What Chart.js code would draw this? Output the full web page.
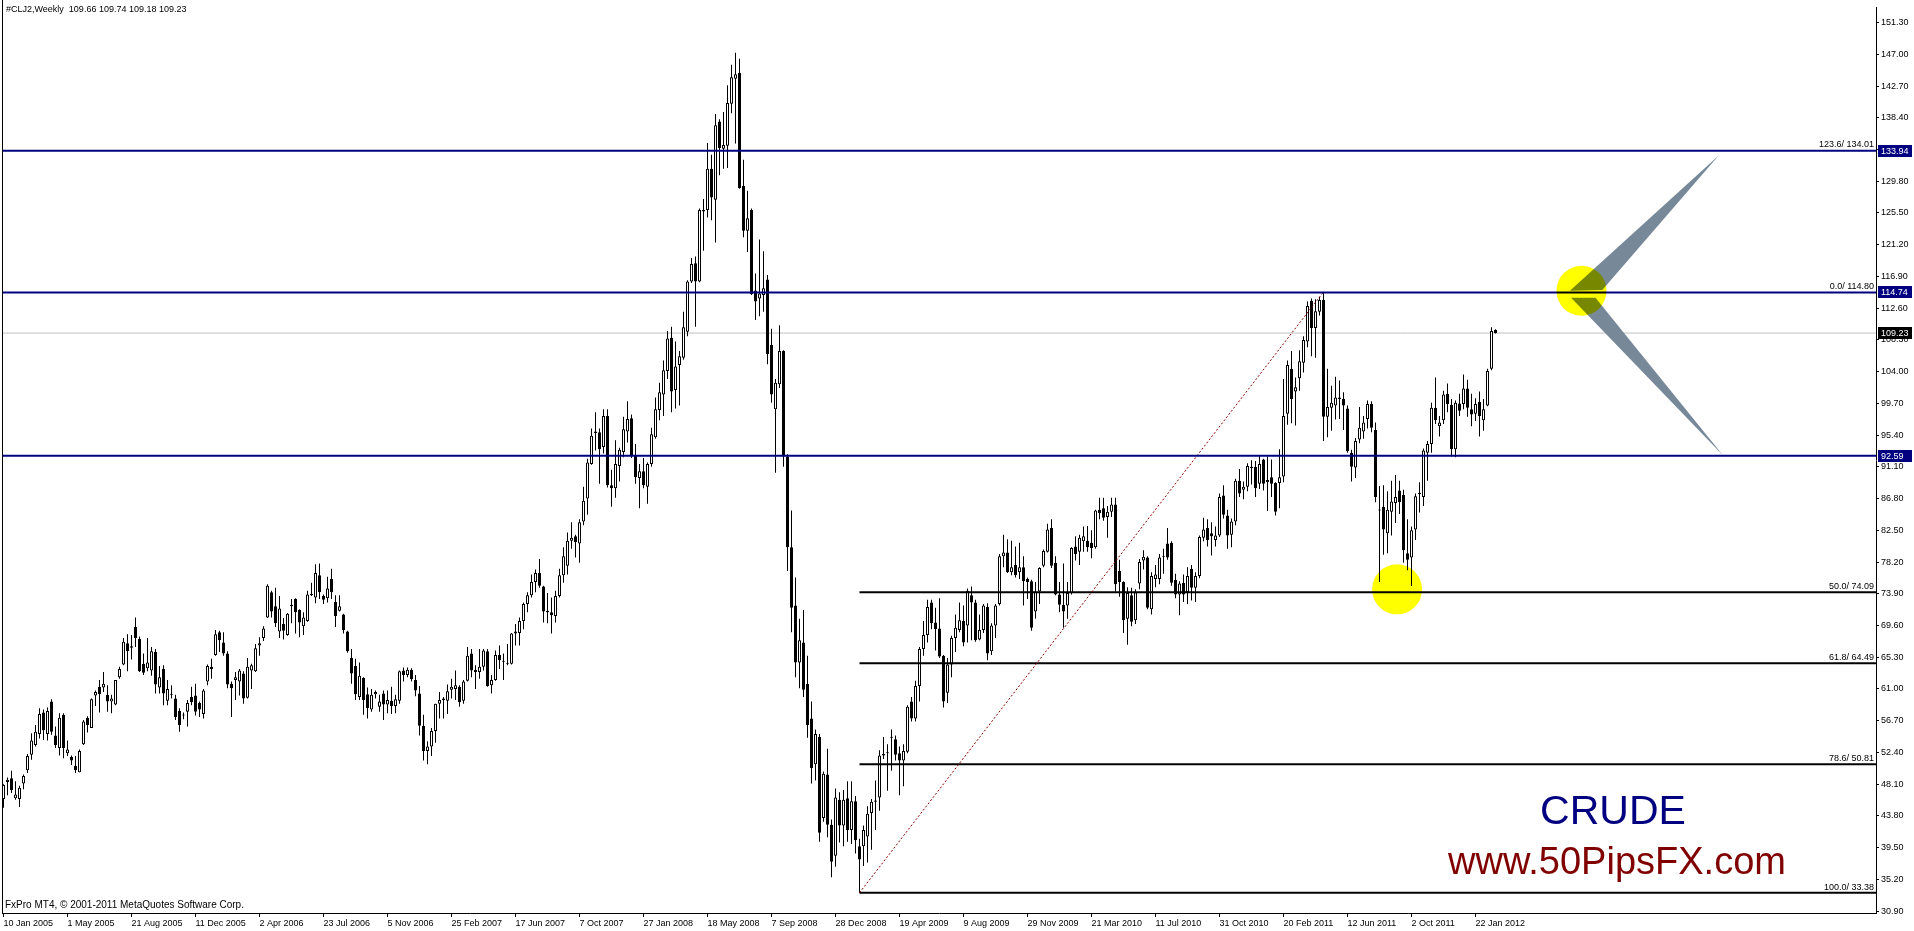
<!DOCTYPE html>
<html>
<head>
<meta charset="utf-8">
<title>#CLJ2,Weekly</title>
<script src="https://cdn.jsdelivr.net/npm/chart.js@4.4.1/dist/chart.umd.min.js"></script>
<style>
  html, body { margin: 0; padding: 0; background: #fff; overflow: hidden; }
  #chart { display: block; }
</style>
</head>
<body>
<canvas id="chart" width="1914" height="931"></canvas>
<script>
// weekly bars, one per week from 10 Jan 2005 to 26 Feb 2012 (374 bars)
const weekOpen = [
  46.1, 48.4, 48.9, 46.2, 46.1, 48.2, 50.0, 52.1, 53.4, 54.9,
  57.8, 54.9, 59.3, 54.7, 53.0, 57.5, 52.3, 51.8, 50.6, 49.7,
  53.5, 57.1, 55.7, 60.1, 61.3, 61.2, 60.2, 59.3, 58.9, 62.6,
  64.3, 67.2, 66.6, 69.4, 67.8, 64.4, 63.8, 63.5, 66.0, 61.2,
  63.7, 59.4, 60.3, 59.7, 58.0, 57.4, 57.9, 59.9, 60.1, 59.1,
  57.6, 62.0, 64.0, 65.6, 68.7, 67.3, 65.8, 61.7, 62.2, 62.0,
  63.1, 59.8, 63.5, 63.4, 66.9, 67.9, 70.7, 74.1, 72.2, 68.8,
  69.8, 68.3, 72.4, 73.2, 71.7, 69.5, 70.2, 73.9, 73.4, 76.4,
  73.6, 73.3, 75.9, 72.8, 71.6, 71.1, 68.8, 65.2, 64.1, 59.9,
  62.5, 60.3, 58.2, 60.3, 58.6, 60.4, 58.9, 59.4, 58.7, 59.4,
  63.5, 62.9, 63.6, 62.2, 60.4, 56.0, 52.6, 53.2, 55.3, 59.0,
  59.7, 59.4, 60.9, 61.0, 61.3, 59.4, 62.1, 65.8, 63.6, 63.3,
  64.0, 66.1, 61.5, 62.2, 65.6, 64.8, 64.5, 64.4, 68.5, 68.6,
  70.2, 72.5, 73.7, 75.5, 76.7, 74.9, 71.6, 71.4, 70.9, 73.6,
  76.4, 77.7, 81.1, 81.7, 80.7, 83.7, 86.8, 91.5, 95.9, 95.8,
  93.8, 98.0, 88.6, 88.2, 91.2, 93.1, 95.9, 97.7, 92.6, 89.6,
  90.5, 88.4, 91.5, 95.1, 98.8, 100.9, 104.1, 108.6, 101.5, 104.9,
  105.9, 109.4, 116.2, 118.7, 116.2, 125.7, 125.9, 131.5, 127.3, 137.9,
  134.2, 134.6, 140.3, 143.7, 144.5, 129.2, 123.1, 125.9, 115.0, 113.9,
  114.4, 116.5, 107.6, 98.9, 102.3, 106.8, 92.5, 80.2, 72.3, 64.6,
  67.3, 61.7, 57.0, 50.8, 54.5, 43.5, 49.4, 42.6, 38.4, 46.0,
  42.5, 46.2, 41.9, 45.8, 39.7, 39.7, 41.0, 44.2, 45.7, 46.3,
  52.0, 52.3, 54.4, 54.2, 52.3, 51.3, 52.5, 59.3, 57.0, 61.4,
  66.4, 68.3, 72.7, 70.0, 69.2, 65.5, 60.5, 64.3, 67.9, 69.0,
  70.2, 69.6, 73.7, 72.7, 67.7, 69.0, 72.1, 66.1, 69.6, 72.5,
  79.0, 79.5, 76.8, 77.8, 76.8, 77.5, 75.9, 75.6, 71.5, 74.2,
  77.7, 79.6, 82.8, 78.1, 73.8, 72.4, 72.3, 74.0, 80.3, 79.6,
  81.0, 81.1, 80.8, 80.2, 85.3, 85.5, 84.3, 85.0, 86.0, 77.0,
  75.5, 70.5, 73.7, 70.3, 75.3, 78.4, 78.8, 71.8, 75.9, 75.9,
  78.9, 80.7, 80.8, 75.8, 73.8, 75.4, 74.1, 77.3, 74.7, 76.3,
  81.5, 82.8, 82.1, 81.2, 81.8, 87.2, 84.5, 81.9, 83.7, 89.2,
  88.0, 88.4, 91.1, 91.1, 88.8, 92.1, 89.0, 89.7, 88.9, 88.9,
  89.8, 98.3, 104.4, 101.3, 103.1, 105.2, 108.1, 113.6, 109.9, 112.1,
  113.7, 97.9, 99.1, 99.4, 100.5, 100.3, 99.0, 93.0, 91.0, 94.8,
  95.9, 97.6, 99.6, 96.1, 85.3, 85.7, 82.1, 85.0, 86.2, 87.9,
  87.3, 79.4, 78.8, 82.6, 87.4, 87.0, 93.0, 94.2, 99.1, 96.6,
  97.4, 101.0, 99.5, 93.5, 99.7, 99.6, 101.7, 98.9, 98.3, 99.9,
  97.4, 99.4, 104.4, 109.66
];
const weekHigh = [
  48.1, 49.0, 49.9, 48.5, 47.9, 49.4, 52.2, 55.0, 56.1, 58.4,
  58.2, 58.5, 59.6, 55.9, 57.7, 57.7, 54.0, 52.0, 51.9, 52.8,
  56.8, 57.3, 59.7, 60.8, 62.2, 63.3, 61.5, 60.2, 62.2, 64.0,
  67.9, 68.4, 68.3, 70.7, 68.1, 65.8, 67.9, 66.7, 66.4, 64.1,
  64.2, 62.2, 61.5, 60.2, 58.4, 57.8, 59.5, 61.3, 61.7, 59.3,
  61.0, 64.3, 65.1, 69.0, 68.9, 68.7, 66.1, 62.0, 63.3, 63.7,
  63.4, 65.2, 64.4, 67.1, 68.0, 69.5, 75.2, 74.3, 74.7, 73.6,
  70.6, 71.3, 73.2, 73.3, 71.8, 71.4, 74.3, 75.4, 77.9, 78.0,
  73.8, 76.2, 77.3, 73.7, 73.7, 71.2, 68.9, 66.4, 65.1, 64.6,
  62.6, 61.2, 61.0, 60.8, 60.2, 60.8, 60.8, 61.3, 60.2, 63.5,
  63.9, 63.9, 63.8, 62.9, 61.4, 57.5, 53.9, 55.7, 59.0, 60.6,
  59.9, 61.6, 62.4, 63.5, 61.5, 62.2, 66.7, 66.4, 64.2, 66.4,
  66.4, 66.4, 62.9, 66.2, 66.9, 65.8, 67.1, 68.6, 69.8, 70.7,
  72.7, 74.1, 76.5, 77.2, 78.6, 75.0, 74.0, 73.4, 74.3, 77.3,
  80.2, 82.2, 83.6, 81.9, 84.0, 88.4, 92.2, 96.3, 98.5, 96.3,
  98.9, 98.9, 90.7, 94.7, 93.7, 97.9, 100.0, 98.2, 94.2, 91.5,
  92.3, 91.7, 96.4, 100.5, 102.5, 105.5, 109.5, 110.1, 108.1, 106.8,
  112.1, 116.4, 119.4, 119.6, 126.1, 127.4, 135.0, 133.4, 138.9, 138.2,
  139.2, 142.8, 145.6, 147.2, 146.4, 132.7, 128.5, 126.1, 117.3, 121.9,
  120.3, 117.1, 109.8, 103.0, 110.3, 106.9, 92.8, 85.2, 76.1, 70.5,
  71.7, 65.5, 59.3, 55.5, 54.9, 49.8, 52.9, 43.3, 47.5, 47.0,
  47.3, 48.5, 48.5, 46.5, 40.7, 42.5, 45.1, 46.1, 48.6, 52.7,
  54.5, 53.5, 55.5, 54.7, 53.2, 53.5, 58.8, 59.9, 62.1, 66.7,
  70.2, 73.1, 73.1, 72.0, 73.3, 65.6, 65.2, 68.2, 71.1, 72.7,
  72.3, 74.6, 74.9, 73.1, 71.1, 72.5, 72.6, 69.9, 72.5, 79.3,
  81.9, 81.3, 81.1, 80.3, 80.8, 79.0, 76.1, 75.8, 75.5, 77.5,
  79.9, 83.4, 84.0, 79.0, 75.5, 78.0, 75.5, 80.2, 81.7, 81.9,
  83.0, 83.1, 82.5, 85.3, 86.9, 86.9, 85.8, 86.9, 86.9, 78.5,
  75.6, 74.8, 74.7, 74.5, 78.6, 79.8, 79.0, 76.8, 77.8, 79.3,
  80.0, 82.8, 81.0, 76.6, 75.6, 76.5, 77.5, 77.8, 76.8, 81.8,
  84.2, 84.0, 83.6, 83.0, 87.5, 88.6, 85.3, 84.1, 89.5, 90.8,
  89.1, 91.6, 92.0, 91.9, 92.6, 92.2, 92.5, 92.1, 89.0, 93.5,
  103.0, 105.5, 106.8, 103.2, 106.9, 108.8, 113.5, 113.9, 113.8, 114.1,
  114.8, 104.4, 102.1, 103.3, 102.8, 101.2, 99.4, 93.4, 95.0, 99.2,
  98.0, 100.1, 100.0, 97.1, 88.5, 88.6, 87.8, 89.2, 90.0, 89.2,
  88.0, 84.0, 83.0, 87.5, 89.0, 93.6, 94.6, 99.8, 103.2, 98.0,
  101.4, 102.4, 100.3, 100.1, 101.0, 103.6, 102.9, 101.0, 100.4, 101.3,
  100.3, 104.4, 110.0, 109.74
];
const weekLow = [
  44.9, 46.6, 46.9, 46.0, 45.0, 47.4, 49.6, 51.4, 53.2, 54.3,
  54.1, 54.0, 54.8, 53.0, 52.0, 51.6, 51.9, 50.7, 49.6, 49.7,
  53.4, 55.1, 55.7, 58.7, 57.8, 60.6, 57.9, 57.7, 58.8, 62.4,
  64.2, 63.4, 65.0, 66.7, 63.3, 62.9, 63.4, 62.8, 60.4, 60.4,
  58.8, 58.8, 59.7, 56.8, 55.2, 56.9, 55.9, 58.8, 57.4, 57.2,
  57.0, 61.5, 62.4, 65.5, 66.0, 65.5, 61.1, 57.2, 59.5, 60.1,
  59.0, 59.7, 61.0, 63.3, 65.5, 67.5, 70.6, 70.7, 69.4, 67.9,
  67.7, 68.2, 69.9, 68.5, 68.0, 68.3, 70.1, 73.6, 72.6, 73.2,
  72.5, 72.7, 73.2, 69.4, 71.5, 68.5, 65.9, 61.7, 59.5, 59.5,
  57.5, 57.0, 57.9, 59.7, 57.9, 56.8, 57.7, 57.6, 57.7, 59.0,
  62.0, 62.6, 62.0, 60.0, 54.7, 51.3, 50.8, 51.9, 53.7, 57.0,
  57.0, 57.6, 59.7, 59.5, 58.6, 59.0, 62.0, 62.6, 61.0, 62.4,
  63.5, 61.3, 60.4, 62.1, 63.7, 62.2, 64.2, 64.3, 66.9, 66.9,
  69.1, 71.4, 73.4, 74.1, 74.7, 70.0, 69.9, 68.5, 70.0, 73.4,
  75.4, 76.5, 80.0, 78.8, 78.1, 83.2, 84.6, 91.4, 93.3, 88.8,
  92.9, 88.3, 85.7, 86.9, 89.1, 92.4, 94.4, 92.3, 88.8, 85.5,
  88.2, 86.1, 91.1, 94.9, 97.4, 98.0, 103.0, 98.5, 99.0, 99.4,
  105.6, 108.8, 116.0, 110.1, 116.1, 120.4, 124.9, 124.5, 121.5, 130.6,
  131.5, 131.6, 139.0, 134.9, 128.8, 122.2, 120.2, 114.4, 111.0, 111.5,
  112.1, 105.0, 99.8, 90.3, 101.8, 91.1, 77.0, 68.7, 62.6, 61.1,
  59.9, 54.4, 48.2, 48.6, 40.3, 43.0, 40.9, 35.5, 36.9, 40.2,
  39.7, 40.3, 40.0, 38.7, 33.38, 37.0, 37.5, 39.2, 41.9, 44.5,
  51.5, 47.2, 49.9, 51.3, 46.6, 47.8, 52.3, 56.6, 56.6, 59.3,
  65.5, 67.3, 69.1, 66.2, 65.2, 58.5, 59.1, 62.6, 66.0, 68.7,
  66.8, 67.3, 67.6, 67.4, 67.6, 68.6, 64.9, 65.6, 67.9, 72.3,
  77.5, 76.7, 76.4, 76.1, 75.9, 72.3, 73.2, 68.9, 70.5, 72.5,
  77.5, 79.5, 77.4, 73.7, 71.4, 69.3, 70.5, 73.8, 78.4, 77.8,
  79.6, 79.6, 78.7, 80.0, 84.0, 83.8, 81.5, 84.3, 74.2, 73.5,
  68.6, 67.0, 69.5, 69.8, 74.5, 77.2, 71.8, 71.1, 74.8, 75.2,
  76.6, 78.5, 75.0, 73.3, 71.0, 72.8, 72.5, 73.0, 72.8, 76.0,
  81.0, 80.3, 79.1, 80.3, 81.6, 84.1, 80.0, 80.2, 83.2, 87.0,
  86.7, 87.8, 88.7, 87.0, 88.1, 87.9, 85.1, 87.0, 84.5, 85.5,
  89.0, 96.8, 97.0, 96.7, 101.4, 103.9, 107.3, 106.1, 105.9, 111.6,
  94.6, 95.1, 96.0, 97.5, 97.6, 96.1, 93.0, 89.1, 89.6, 94.3,
  94.9, 96.3, 95.8, 86.3, 75.5, 79.2, 79.4, 81.8, 83.5, 84.7,
  78.1, 77.1, 74.95, 81.2, 84.9, 85.8, 89.2, 93.0, 96.9, 95.2,
  96.9, 98.5, 92.5, 92.4, 98.0, 98.9, 97.9, 96.6, 97.3, 95.2,
  96.0, 99.3, 104.2, 109.18
];
const weekClose = [
  48.0, 48.7, 47.3, 46.7, 47.6, 49.2, 51.9, 54.0, 55.2, 57.6,
  55.4, 58.0, 55.2, 53.4, 57.1, 53.0, 52.8, 51.3, 50.0, 52.6,
  56.6, 56.1, 59.6, 60.6, 60.3, 61.7, 59.3, 59.7, 62.2, 63.7,
  67.4, 66.1, 66.8, 67.9, 63.4, 63.2, 64.6, 66.1, 61.6, 62.6,
  60.4, 61.0, 60.2, 57.2, 56.1, 57.5, 59.1, 59.2, 57.9, 58.2,
  60.8, 64.1, 63.7, 68.4, 67.6, 65.8, 61.6, 61.1, 62.6, 63.5,
  59.7, 64.0, 64.2, 66.5, 67.2, 69.2, 75.0, 71.5, 69.9, 71.9,
  68.9, 71.2, 72.2, 71.4, 70.0, 70.7, 73.8, 73.7, 76.7, 74.1,
  73.1, 74.6, 74.1, 70.9, 72.2, 69.0, 66.1, 63.1, 60.3, 62.8,
  59.5, 58.4, 60.2, 60.6, 59.3, 58.9, 59.5, 58.7, 59.6, 63.4,
  62.9, 63.6, 62.3, 60.8, 56.0, 52.6, 53.2, 55.3, 59.0, 59.5,
  59.5, 60.7, 61.3, 61.5, 59.2, 62.0, 65.5, 63.5, 63.3, 64.0,
  66.2, 61.4, 62.2, 65.6, 64.9, 64.7, 64.4, 68.5, 68.8, 70.2,
  72.5, 73.7, 75.5, 76.7, 75.0, 71.5, 71.4, 71.0, 73.6, 76.4,
  79.0, 81.1, 81.5, 80.9, 83.6, 86.5, 91.7, 95.3, 95.7, 93.5,
  98.0, 88.6, 88.2, 91.5, 93.4, 96.2, 97.6, 92.6, 89.7, 90.5,
  88.6, 91.5, 95.5, 98.9, 101.2, 104.2, 108.5, 101.3, 104.7, 106.1,
  110.0, 116.2, 118.6, 116.2, 125.9, 125.9, 131.5, 127.6, 137.4, 134.3,
  134.7, 140.4, 143.9, 144.3, 128.9, 123.1, 124.8, 114.5, 113.5, 114.6,
  115.3, 106.4, 100.9, 102.5, 106.8, 92.5, 80.2, 72.0, 64.6, 67.6,
  60.9, 56.1, 50.3, 54.9, 41.5, 49.5, 42.6, 37.6, 46.3, 42.5,
  46.0, 41.9, 45.8, 40.5, 37.9, 41.9, 44.1, 45.7, 45.9, 52.0,
  52.2, 52.4, 54.5, 52.1, 51.3, 52.6, 58.6, 57.0, 61.4, 66.4,
  68.3, 72.1, 69.9, 69.1, 65.4, 59.3, 64.3, 67.9, 69.3, 70.3,
  67.3, 74.3, 72.7, 67.6, 69.0, 72.3, 65.8, 69.6, 72.3, 79.0,
  79.5, 76.8, 77.5, 76.4, 77.5, 75.6, 75.5, 69.3, 74.2, 77.4,
  79.7, 82.6, 77.7, 73.8, 72.4, 71.5, 74.0, 80.1, 79.3, 81.5,
  81.7, 80.2, 80.1, 85.2, 84.8, 84.2, 85.0, 86.0, 75.2, 75.5,
  70.3, 74.0, 70.1, 74.1, 78.2, 78.9, 72.0, 76.3, 76.5, 78.8,
  79.0, 78.8, 75.4, 73.8, 75.3, 73.8, 76.3, 74.7, 76.3, 81.6,
  82.6, 81.2, 81.7, 81.8, 87.0, 84.6, 81.8, 83.7, 89.2, 87.5,
  88.4, 91.2, 90.9, 88.2, 91.5, 88.8, 89.3, 88.8, 85.0, 89.7,
  98.0, 104.9, 100.3, 101.9, 105.4, 108.3, 112.9, 109.9, 112.2, 113.7,
  97.9, 99.2, 99.8, 100.5, 100.3, 99.4, 93.2, 91.1, 94.6, 96.4,
  97.1, 99.6, 96.4, 87.0, 85.2, 82.6, 85.3, 86.4, 87.0, 86.3,
  79.8, 78.5, 82.5, 87.1, 87.6, 93.3, 94.2, 99.1, 97.4, 97.1,
  100.9, 99.6, 93.5, 99.8, 98.7, 101.7, 99.1, 98.2, 99.6, 98.0,
  98.9, 104.1, 109.5, 109.23
];

// time axis labels, one every 16 bars
const dateLabels = [
  '10 Jan 2005', '1 May 2005', '21 Aug 2005', '11 Dec 2005', '2 Apr 2006', '23 Jul 2006',
  '5 Nov 2006', '25 Feb 2007', '17 Jun 2007', '7 Oct 2007', '27 Jan 2008', '18 May 2008',
  '7 Sep 2008', '28 Dec 2008', '19 Apr 2009', '9 Aug 2009', '29 Nov 2009', '21 Mar 2010',
  '11 Jul 2010', '31 Oct 2010', '20 Feb 2011', '12 Jun 2011', '2 Oct 2011', '22 Jan 2012'
];
const labelStep = 16;

// price scale labels
const priceTicks = [
  30.90, 35.20, 39.50, 43.80, 48.10, 52.40, 56.70, 61.00, 65.30, 69.60,
  73.90, 78.20, 82.50, 86.80, 91.10, 95.40, 99.70, 104.00, 108.30, 112.60,
  116.90, 121.20, 125.50, 129.80, 134.10, 138.40, 142.70, 147.00, 151.30
];

// drawn objects
const hLines = [133.94, 114.74, 92.59];
const bidPrice = 109.23;
const fibLevels = ['0.0', '50.0', '61.8', '78.6', '100.0', '123.6'];
const fibPrices = [114.80, 74.09, 64.49, 50.81, 33.38, 134.01];
const fibStart = 214;
const trendLine = [[214, 33.38], [330, 114.80]];
const markers = [[348.4, 74.5], [394.5, 114.96]];
const arrowUp = [[391.6, 114.96], [428.8, 133.3], [399.7, 115.05]];
const arrowDown = [[391.9, 114.0], [429.9, 92.64], [398.0, 114.0]];

const FONT = "'Liberation Sans', Arial, sans-serif";
const xMin = -0.375, xMax = 468.125;
const yMin = 30.64, yMax = 153.36;

Chart.defaults.font.family = FONT;
Chart.defaults.font.size = 9;
Chart.defaults.color = '#000';

const flatLine = (pts, color, width, order, dash) => ({
    type: 'line',
    data: pts.map(p => ({ x: p[0], y: p[1] })),
    borderColor: color,
    borderWidth: width,
    borderDash: dash || [],
    pointRadius: 0,
    fill: false,
    order: order
});

const datasets = [];
hLines.forEach(p => datasets.push(flatLine([[xMin, p], [xMax, p]], '#000080', 2, 0)));
datasets.push(flatLine(trendLine, '#900000', 1, 1, [2, 2]));
// fibo lines that sit under a horizontal line are hidden by it
fibPrices.filter(p => !hLines.some(h => Math.abs(h - p) < 0.1))
    .forEach(p => datasets.push(flatLine([[fibStart, p], [xMax, p]], '#000', 2, 2)));
datasets.push({
    data: weekOpen.map((o, k) => ({ x: k, y: [o, weekClose[k]] })),
    backgroundColor: c => weekClose[c.dataIndex] >= weekOpen[c.dataIndex] ? '#fff' : '#000',
    borderColor: '#000',
    borderWidth: 1,
    borderSkipped: false,
    barThickness: 3,
    maxBarThickness: 3,
    minBarLength: 1,
    inflateAmount: 0,
    grouped: false,
    order: 3
});
datasets.push({
    data: weekHigh.map((h, k) => ({ x: k, y: [weekLow[k], h] })),
    backgroundColor: '#000',
    borderWidth: 0,
    barThickness: 1,
    maxBarThickness: 1,
    inflateAmount: 0,
    grouped: false,
    order: 4
});
datasets.push(flatLine([[xMin, bidPrice], [xMax, bidPrice]], '#C0C0C0', 1, 5));

const overlay = {
    id: 'overlay',
    afterDatasetsDraw(chart) {
        const { ctx, chartArea: a } = chart;
        const x = chart.scales.x, y = chart.scales.y;
        ctx.save();
        ctx.beginPath();
        ctx.rect(a.left, a.top, a.right - a.left, a.bottom - a.top);
        ctx.clip();

        // grey arrows
        ctx.fillStyle = '#778899';
        [arrowUp, arrowDown].forEach(pts => {
            ctx.beginPath();
            pts.forEach((p, i) => {
                const px = x.getPixelForValue(p[0]), py = y.getPixelForValue(p[1]);
                if (i) ctx.lineTo(px, py); else ctx.moveTo(px, py);
            });
            ctx.closePath();
            ctx.fill();
        });

        // yellow markers
        ctx.globalCompositeOperation = 'multiply';
        ctx.fillStyle = '#ffff00';
        markers.forEach(m => {
            ctx.beginPath();
            ctx.arc(x.getPixelForValue(m[0]), y.getPixelForValue(m[1]), 25, 0, Math.PI * 2);
            ctx.fill();
        });
        ctx.globalCompositeOperation = 'source-over';

        // fibo level texts
        ctx.font = '9px ' + FONT;
        ctx.fillStyle = '#000';
        ctx.textAlign = 'right';
        ctx.textBaseline = 'bottom';
        fibPrices.forEach((p, i) => {
            ctx.fillText(fibLevels[i] + '/ ' + p.toFixed(2), a.right - 2, y.getPixelForValue(p) - 1);
        });

        // labels
        ctx.textAlign = 'center';
        ctx.textBaseline = 'alphabetic';
        ctx.font = '41px ' + FONT;
        ctx.fillStyle = '#000080';
        ctx.fillText('CRUDE', 1613, 824);
        ctx.font = '38px ' + FONT;
        ctx.fillStyle = '#800000';
        ctx.fillText('www.50PipsFX.com', 1617, 874);
        ctx.restore();
    },
    afterDraw(chart) {
        const { ctx, chartArea: a } = chart;
        const y = chart.scales.y;
        const last = weekOpen.length - 1;
        ctx.save();
        ctx.fillStyle = '#000';
        ctx.fillRect(2, 0, 1, a.bottom);

        ctx.font = '9px ' + FONT;
        ctx.textAlign = 'left';
        ctx.textBaseline = 'alphabetic';
        ctx.fillText('#CLJ2,Weekly  ' + [weekOpen[last], weekHigh[last], weekLow[last], weekClose[last]]
            .map(v => v.toFixed(2)).join(' '), 6, 12);
        ctx.font = '10px ' + FONT;
        ctx.fillText('FxPro MT4, \u00A9 2001-2011 MetaQuotes Software Corp.', 5, 908);

        // price boxes on the axis
        ctx.font = '9px ' + FONT;
        ctx.textBaseline = 'middle';
        hLines.map(p => [p, '#000080']).concat([[bidPrice, '#000']]).forEach(b => {
            const py = Math.round(y.getPixelForValue(b[0]));
            ctx.fillStyle = b[1];
            ctx.fillRect(a.right + 2, py - 6, 34, 12);
            ctx.fillStyle = '#fff';
            ctx.fillText(b[0].toFixed(2), a.right + 5, py + 0.5);
        });
        ctx.restore();
    }
};

new Chart(document.getElementById('chart').getContext('2d'), {
    type: 'bar',
    data: { datasets: datasets },
    options: {
        responsive: false,
        animation: false,
        events: [],
        layout: { padding: { left: 2, right: 0, top: 0, bottom: 0 } },
        plugins: { legend: { display: false }, tooltip: { enabled: false } },
        scales: {
            x: {
                type: 'linear',
                min: xMin,
                max: xMax,
                offset: false,
                bounds: 'data',
                afterBuildTicks: s => { s.ticks = dateLabels.map((t, i) => ({ value: i * labelStep })); },
                afterFit: s => { s.height = 18; },
                ticks: {
                    autoSkip: false,
                    maxRotation: 0,
                    align: 'start',
                    padding: 1,
                    color: '#000',
                    callback: (v, i) => dateLabels[i] || ''
                },
                grid: { display: true, drawOnChartArea: false, drawTicks: true, tickLength: 4, color: '#000', offset: false },
                border: { display: true, color: '#000', width: 1 }
            },
            y: {
                type: 'linear',
                position: 'right',
                min: yMin,
                max: yMax,
                beginAtZero: false,
                afterBuildTicks: s => { s.ticks = priceTicks.map(v => ({ value: v })); },
                afterFit: s => { s.width = 38; },
                ticks: {
                    padding: 2,
                    color: '#000',
                    callback: v => v.toFixed(2)
                },
                grid: { display: true, drawOnChartArea: false, drawTicks: true, tickLength: 3, color: '#000' },
                border: { display: true, color: '#000', width: 1 }
            }
        }
    },
    plugins: [overlay]
});
</script>
</body>
</html>
